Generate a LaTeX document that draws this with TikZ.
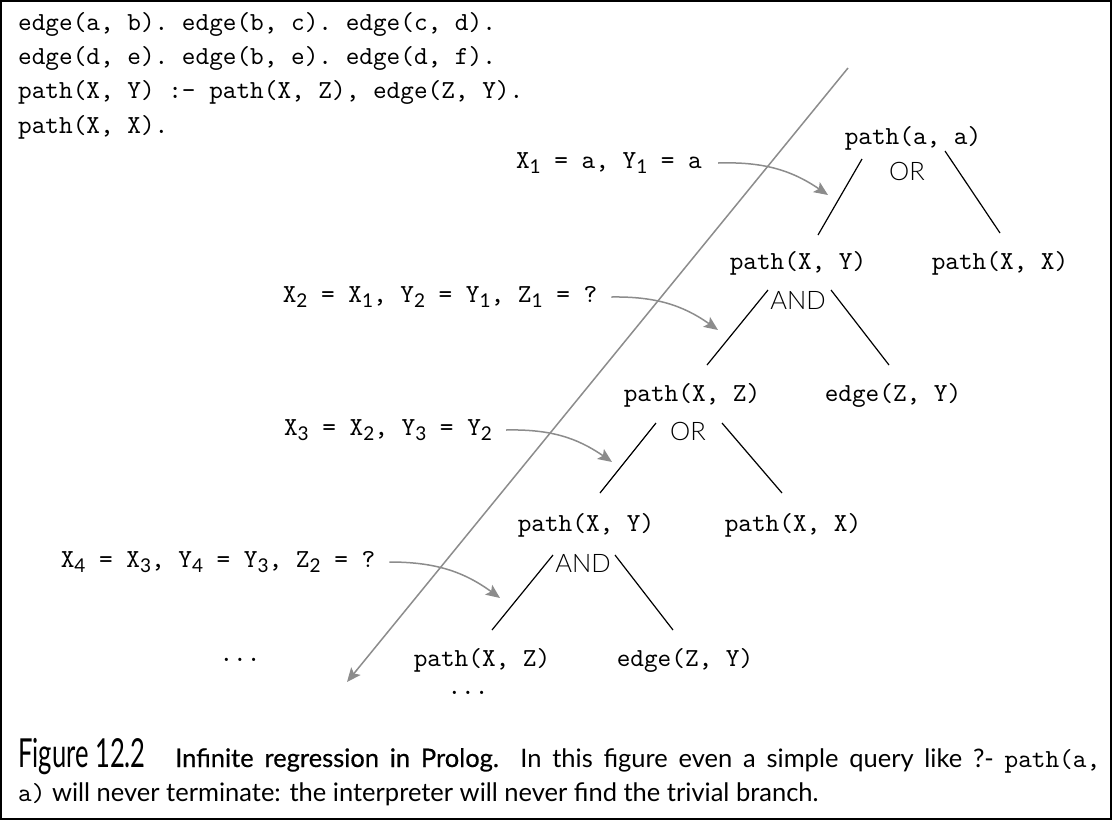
\documentclass[tikz,border=0pt]{standalone}
\usepackage{fontspec}
\setmonofont{lmmono10-regular}[Extension=.otf]
\newfontfamily\gill{Lato}
\newfontfamily\gillmed{Lato}[FakeBold=0.5]
\newfontfamily\gilllight{Lato Light}
\newfontfamily\gillfig{Lato}[FakeStretch=0.64]
\usetikzlibrary{arrows.meta}
\newcommand\sub[1]{\raisebox{-5pt}{\gill\fontsize{19}{19}\selectfont #1}}
\begin{document}
\begin{tikzpicture}[x=1pt,y=-1pt,
  code/.style={font=\ttfamily\fontsize{26}{34}\selectfont, inner sep=0pt},
  opnode/.style={font=\gilllight\fontsize{25.5}{25.5}\selectfont, inner sep=0pt},
  treeline/.style={black, line width=1.2pt},
  greyarrow/.style={draw=black!45, line width=1.5pt, -{Stealth[length=14pt,width=12pt,inset=3pt]}},
  captext/.style={font=\gill\fontsize{25.5}{32}\selectfont, inner sep=0pt, anchor=base west}]
\useasboundingbox (0,0) rectangle (1112,820);
\draw[line width=2pt] (1,1) rectangle (1111,819);
% program text
\node[code, anchor=base west] (l1) at (18,30) {edge(a, b). edge(b, c). edge(c, d).};
\node[code, anchor=base west] (l2) at (18,64) {edge(d, e). edge(b, e). edge(d, f).};
\node[code, anchor=base west] (l3) at (18,98) {path(X, Y) :- path(X, Z), edge(Z, Y).};
\node[code, anchor=base west] (l4) at (18,133) {path(X, X).};
% long grey arrow
\coordinate (gtop) at (848,68);
\coordinate (gbot) at (347,682);
\draw[greyarrow] (gtop) -- (gbot);
% tree
\node[code] (paa) at (913,138) {path(a, a)};
\node[opnode] (or1) at (907,171) {OR};
\node[code] (pxy1) at (798,263) {path(X, Y)};
\node[code] (pxx1) at (1000,263) {path(X, X)};
\node[opnode] (and1) at (798,300) {AND};
\node[code] (pxz1) at (692,395) {path(X, Z)};
\node[code] (ezy1) at (893,395) {edge(Z, Y)};
\node[opnode] (or2) at (688,431) {OR};
\node[code] (pxy2) at (586,525) {path(X, Y)};
\node[code] (pxx2) at (793,525) {path(X, X)};
\node[opnode] (and2) at (583,563) {AND};
\node[code] (pxz2) at (482,660) {path(X, Z)};
\node[code] (ezy2) at (685,660) {edge(Z, Y)};
\node[code] (dots1) at (468,693) {...};
\node[code] (dots2) at (240,660) {...};
\draw[treeline] ([shift={(-45,-12)}]or1.center) -- ([shift={(20,-28)}]pxy1.center);
\draw[treeline] ([shift={(38,-20)}]or1.center) -- ([shift={(0,-30)}]pxx1.center);
\draw[treeline] ([shift={(-30,-10)}]and1.center) -- ([shift={(15,-30)}]pxz1.center);
\draw[treeline] ([shift={(33,-10)}]and1.center) -- ([shift={(-4,-30)}]ezy1.center);
\draw[treeline] ([shift={(-32,-8)}]or2.center) -- ([shift={(14,-32)}]pxy2.center);
\draw[treeline] ([shift={(34,-8)}]or2.center) -- ([shift={(-11,-32)}]pxx2.center);
\draw[treeline] ([shift={(-30,-8)}]and2.center) -- ([shift={(10,-30)}]pxz2.center);
\draw[treeline] ([shift={(32,-8)}]and2.center) -- ([shift={(-12,-30)}]ezy2.center);
% bindings
\node[code] (b1) at (609,163) {X\sub{1} = a, Y\sub{1} = a};
\node[code] (b2) at (440,297) {X\sub{2} = X\sub{1}, Y\sub{2} = Y\sub{1}, Z\sub{1} = ?};
\node[code] (b3) at (388,430) {X\sub{3} = X\sub{2}, Y\sub{3} = Y\sub{2}};
\node[code] (b4) at (218,562) {X\sub{4} = X\sub{3}, Y\sub{4} = Y\sub{3}, Z\sub{2} = ?};
\draw[greyarrow] ([xshift=16pt]b1.east) to[bend left=18] ([shift={(-79,24)}]or1.center);
\draw[greyarrow] ([xshift=14pt]b2.east) to[bend left=18] ([shift={(-80,30)}]and1.center);
\draw[greyarrow] ([xshift=14pt]b3.east) to[bend left=18] ([shift={(-76,31)}]or2.center);
\draw[greyarrow] ([xshift=14pt]b4.east) to[bend left=18] ([shift={(-83,35)}]and2.center);
% caption
\node[captext, font=\gillfig\fontsize{40}{40}\selectfont] (fig) at (18,767) {Figure 12.2};
\node[captext] (c1) at (175,767) {\makebox[925pt][s]{{\gillmed Infinite regression in Prolog.} In this figure even a simple query like ?- {\ttfamily\fontsize{26}{26}\selectfont path(a,}}};
\node[captext] (c2) at (18,801) {{\ttfamily\fontsize{26}{26}\selectfont a)} will never terminate: the interpreter will never find the trivial branch.};
\end{tikzpicture}
\end{document}
